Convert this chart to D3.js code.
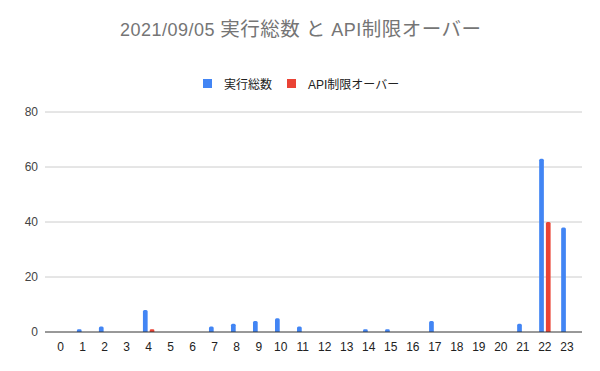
<!DOCTYPE html>
<html>
<head>
<meta charset="utf-8">
<script src="https://cdn.jsdelivr.net/npm/d3@7"></script>
<style>
  body { margin: 0; background: #fff; }
  svg { font-family: "Liberation Sans", Arial, "Noto Sans CJK JP", sans-serif; }
</style>
</head>
<body>
<svg id="chart" width="600" height="371"></svg>
<script>
const hours = d3.range(0, 24).map(String);
const execTotal = [0, 1, 2, 0, 8, 0, 0, 2, 3, 4, 5, 2, 0, 0, 1, 1, 0, 4, 0, 0, 0, 3, 63, 38];
const apiOver  = [0, 0, 0, 0, 1, 0, 0, 0, 0, 0, 0, 0, 0, 0, 0, 0, 0, 0, 0, 0, 0, 0, 40, 0];
const seriesNames = ["実行総数", "API制限オーバー"];
const colors = ["#4285f4", "#ea4335"];
const yTicks = [0, 20, 40, 60, 80];
// title pieces: [text, isCJK]
const titleParts = [["2021/09/05 ", false], ["実行総数", true], [" ", false], ["と", true], [" API", false], ["制限オーバー", true]];

const svg = d3.select("#chart");
const x = d3.scaleBand().domain(hours).range([49.6, 577.9]);
const xs = d3.scaleBand().domain([0, 1]).range([0, x.bandwidth() * 0.52]).paddingInner(0.3);
const y = d3.scaleLinear().domain([0, 80]).range([332, 112]);

// title
let title = svg.append("text")
  .attr("x", 120).attr("y", 36)
  .attr("font-size", 18)
  .attr("fill", "#757575")
  .attr("textLength", 361)
  .attr("lengthAdjust", "spacing");
title.selectAll("tspan")
  .data(titleParts)
  .join("tspan")
  .attr("font-size", d => d[1] ? 19.5 : 18)
  .text(d => d[0]);

// legend
let legendX = [203, 287];
seriesNames.forEach((name, i) => {
  svg.append("rect")
    .attr("x", legendX[i]).attr("y", 79)
    .attr("width", 9).attr("height", 9)
    .attr("fill", colors[i]);
  svg.append("text")
    .attr("x", legendX[i] + 21).attr("y", 88.5)
    .attr("font-size", 12)
    .attr("fill", "#222")
    .text(name);
});

// gridlines
svg.append("g")
  .selectAll("line")
  .data(yTicks.filter(d => d > 0))
  .join("line")
  .attr("x1", 45).attr("x2", 582)
  .attr("y1", d => y(d)).attr("y2", d => y(d))
  .attr("stroke", "#cccccc");

// y labels
svg.append("g")
  .selectAll("text")
  .data(yTicks)
  .join("text")
  .attr("x", 38).attr("y", d => y(d) + 4)
  .attr("text-anchor", "end")
  .attr("font-size", 12)
  .attr("fill", "#444")
  .text(d => d);

// bars
const groupOffset = (x.bandwidth() - xs.range()[1]) / 2;
[execTotal, apiOver].forEach((vals, si) => {
  svg.append("g")
    .selectAll("path")
    .data(vals.map((v, i) => ({ h: hours[i], v })).filter(d => d.v > 0))
    .join("path")
    .attr("fill", colors[si])
    .attr("d", d => {
      const x0 = x(d.h) + groupOffset + xs(si);
      const w = xs.bandwidth();
      const top = y(d.v), bot = y(0);
      const r = Math.min(1.5, (bot - top) / 2);
      return `M${x0},${bot}V${top + r}Q${x0},${top} ${x0 + r},${top}H${x0 + w - r}Q${x0 + w},${top} ${x0 + w},${top + r}V${bot}Z`;
    });
});

// baseline
svg.append("line")
  .attr("x1", 45).attr("x2", 582)
  .attr("y1", y(0)).attr("y2", y(0))
  .attr("stroke", "#333");

// x labels
svg.append("g")
  .selectAll("text")
  .data(hours)
  .join("text")
  .attr("x", d => x(d) + x.bandwidth() / 2)
  .attr("y", 351)
  .attr("text-anchor", "middle")
  .attr("font-size", 12)
  .attr("fill", "#222")
  .text(d => d);
</script>
</body>
</html>
